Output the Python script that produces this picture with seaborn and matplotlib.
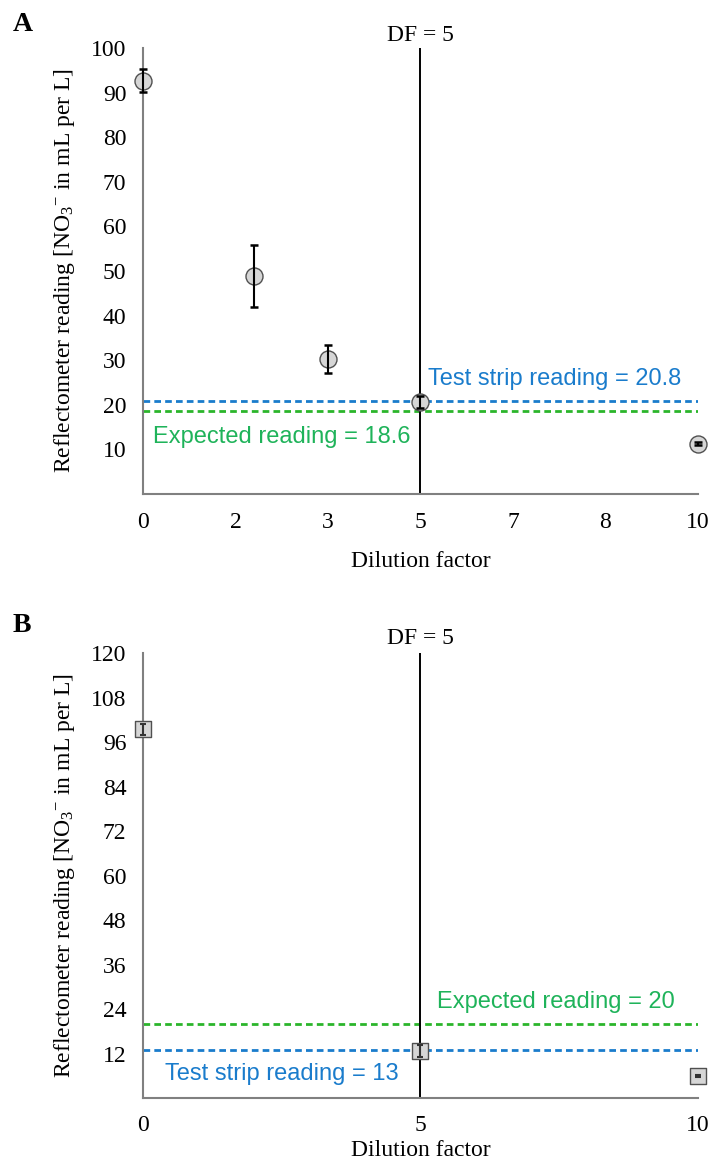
import numpy as np
import pandas as pd
import matplotlib
matplotlib.use("Agg")
import matplotlib.pyplot as plt
import seaborn as sns

# ---- Data: panel A ----
a_tick_labels = [0, 2, 3, 5, 7, 8, 10]
a_df = [0, 2.2, 3, 5, 10]
a_reading = [92.7, 48.9, 30.3, 20.6, 11.3]
a_err = [2.5, 7.0, 3.1, 1.3, 0.4]
a_test_strip = 20.8
a_expected = 18.6
a_yticks = [10, 20, 30, 40, 50, 60, 70, 80, 90, 100]

# ---- Data: panel B ----
b_df = [0, 5, 10]
b_reading = [99.4, 12.8, 6.0]
b_err = [1.4, 1.6, 0.3]
b_test_strip = 13
b_expected = 20
b_xticks = [0, 5, 10]
b_yticks = [12, 24, 36, 48, 60, 72, 84, 96, 108, 120]

DF_LINE = 5

sns.set_theme(style="white")
plt.rcParams['font.family'] = ['Liberation Serif', 'DejaVu Serif']
plt.rcParams['mathtext.fontset'] = 'custom'
plt.rcParams['mathtext.rm'] = 'Liberation Serif'
plt.rcParams['mathtext.it'] = 'Liberation Serif:italic'
for k in ['text.color', 'axes.labelcolor', 'xtick.color', 'ytick.color']:
    plt.rcParams[k] = 'black'

BLUE = "#1a7ccc"
GREEN_LINE = "#2bb52b"
GREEN_TXT = "#1fb35a"
GRAY = "#808080"
ANN_FONT = ['Liberation Sans', 'DejaVu Sans']
FS = 17
DASH = (0, (2.4, 1.5))

fig = plt.figure(figsize=(7.12, 11.73), dpi=100)
axA = fig.add_axes([0.2008, 0.5789, 0.7795, 0.3802])
axB = fig.add_axes([0.2008, 0.0639, 0.7795, 0.3794])

ylabel = r"Reflectometer reading [NO$_3$$^{-}$ in mL per L]"

def style(ax):
    for s in ["top", "right"]:
        ax.spines[s].set_visible(False)
    for s in ["left", "bottom"]:
        ax.spines[s].set_color(GRAY)
        ax.spines[s].set_linewidth(1.5)
    ax.tick_params(axis="both", length=0, labelsize=FS, labelcolor="black")
    ax.tick_params(axis="y", pad=12)
    ax.tick_params(axis="x", pad=13)
    ax.grid(False)

# ---- Panel A ----
a_pos = np.interp(a_df, a_tick_labels, np.arange(len(a_tick_labels)))
dfA = pd.DataFrame({"pos": a_pos, "reading": a_reading, "err": a_err})
axA.axhline(a_test_strip, color=BLUE, ls=DASH, lw=2, zorder=1)
axA.axhline(a_expected, color=GREEN_LINE, ls=DASH, lw=2, zorder=1)
vA = np.interp(DF_LINE, a_tick_labels, np.arange(len(a_tick_labels)))
axA.axvline(vA, color="black", lw=1.4, zorder=2)
sns.scatterplot(data=dfA, x="pos", y="reading", ax=axA, marker="o", s=150,
                color="#d6d6d6", edgecolor="#505050", linewidth=1.0, zorder=3,
                clip_on=False, legend=False)
axA.errorbar(dfA["pos"], dfA["reading"], yerr=dfA["err"], fmt="none",
             ecolor="black", elinewidth=1.5, capsize=3, capthick=1.8,
             zorder=4, clip_on=False)
axA.set_xlim(0, len(a_tick_labels) - 1)
axA.set_ylim(0, 100)
axA.set_xticks(np.arange(len(a_tick_labels)))
axA.set_xticklabels([str(t) for t in a_tick_labels])
axA.set_yticks(a_yticks)
style(axA)
axA.set_xlabel("Dilution factor", fontsize=FS, labelpad=13)
axA.set_ylabel(ylabel, fontsize=FS, labelpad=10)
axA.text(vA, 100.5, f"DF = {DF_LINE}", ha="center", va="bottom", fontsize=FS)
axA.text(3.08, a_test_strip + 5.0, f"Test strip reading = {a_test_strip}",
         color=BLUE, fontsize=FS, family=ANN_FONT, ha="left", va="center")
axA.text(0.11, a_expected - 5.8, f"Expected reading = {a_expected}",
         color=GREEN_TXT, fontsize=FS, family=ANN_FONT, ha="left", va="center")
fig.text(0.018, 0.979, "A", fontsize=20, fontweight="bold", ha="left", va="center")

# ---- Panel B ----
dfB = pd.DataFrame({"df": b_df, "reading": b_reading, "err": b_err})
axB.axhline(b_test_strip, color=BLUE, ls=DASH, lw=2, zorder=1)
axB.axhline(b_expected, color=GREEN_LINE, ls=DASH, lw=2, zorder=1)
axB.axvline(DF_LINE, color="black", lw=1.4, zorder=2)
sns.scatterplot(data=dfB, x="df", y="reading", ax=axB, marker="s", s=135,
                color="#d6d6d6", edgecolor="#505050", linewidth=1.0, zorder=3,
                clip_on=False, legend=False)
axB.errorbar(dfB["df"], dfB["reading"], yerr=dfB["err"], fmt="none",
             ecolor="#333333", elinewidth=1.5, capsize=2.2, capthick=1.5,
             zorder=4, clip_on=False)
axB.set_xlim(0, 10)
axB.set_ylim(0, 120)
axB.set_xticks(b_xticks)
axB.set_xticklabels([str(t) for t in b_xticks])
axB.set_yticks(b_yticks)
style(axB)
axB.tick_params(axis="x", pad=12)
axB.set_xlabel("Dilution factor", fontsize=FS, labelpad=3)
axB.set_ylabel(ylabel, fontsize=FS, labelpad=10)
axB.text(DF_LINE, 121.0, f"DF = {DF_LINE}", ha="center", va="bottom", fontsize=FS)
axB.text(5.3, b_expected + 6.0, f"Expected reading = {b_expected}",
         color=GREEN_TXT, fontsize=FS, family=ANN_FONT, ha="left", va="center")
axB.text(0.4, b_test_strip - 6.5, f"Test strip reading = {b_test_strip}",
         color=BLUE, fontsize=FS, family=ANN_FONT, ha="left", va="center")
fig.text(0.018, 0.467, "B", fontsize=20, fontweight="bold", ha="left", va="center")

fig.savefig("out.png", dpi=100)
